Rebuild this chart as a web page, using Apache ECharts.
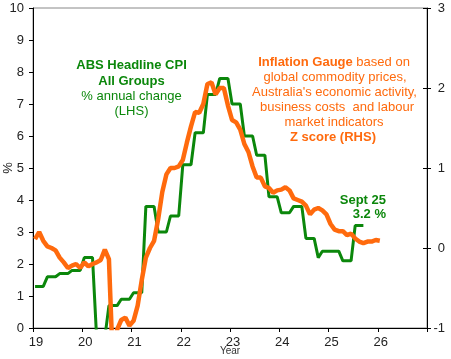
<!DOCTYPE html>
<html>
<head>
<meta charset="utf-8">
<script src="https://cdn.jsdelivr.net/npm/echarts/dist/echarts.min.js"></script>
<style>html,body{margin:0;padding:0;background:#fff}#c{width:451px;height:359px}</style>
</head>
<body>
<div id="c"></div>
<script>
// Monthly series starting January 2019 (x axis in years, '19' = 2019)
const startYear = 19;
// ABS headline CPI, % annual change (LHS), quarterly value held across months
const cpiMonthly = [1.3,1.3,1.3, 1.6,1.6,1.6, 1.7,1.7,1.7, 1.8,1.8,1.8,
  2.2,2.2,2.2, -0.3,-0.3,-0.3, 0.7,0.7,0.7, 0.9,0.9,0.9,
  1.1,1.1,1.1, 3.8,3.8,3.8, 3.0,3.0,3.0, 3.5,3.5,3.5,
  5.1,5.1,5.1, 6.1,6.1,6.1, 7.3,7.3,7.3, 7.8,7.8,7.8,
  7.0,7.0,7.0, 6.0,6.0,6.0, 5.4,5.4,5.4, 4.1,4.1,4.1,
  3.6,3.6,3.6, 3.8,3.8,3.8, 2.8,2.8,2.8, 2.2,2.4,2.4,
  2.4,2.4,2.4, 2.1,2.1,2.1, 3.2,3.2,3.2];
// Inflation Gauge Z score (RHS), monthly
const gaugeZ = [0.11,0.20,0.09,0.02,0.00,-0.03,-0.12,-0.18,-0.25,-0.22,-0.20,-0.25,
  -0.18,-0.23,-0.20,-0.18,-0.15,-0.02,-0.14,-1.50,-1.02,-0.90,-0.87,-0.97,
  -0.91,-0.72,-0.40,-0.12,0.00,0.09,0.36,0.70,0.92,1.00,1.00,1.02,
  1.10,1.32,1.52,1.70,1.69,1.80,2.05,2.07,1.92,2.00,2.00,1.78,
  1.60,1.57,1.48,1.30,1.20,1.02,0.88,0.88,0.77,0.75,0.69,0.72,
  0.73,0.76,0.72,0.62,0.60,0.58,0.53,0.42,0.48,0.50,0.47,0.42,
  0.30,0.23,0.21,0.21,0.16,0.18,0.12,0.08,0.06,0.08,0.08,0.10,
  0.09];
const xTickLabels = ['19','20','21','22','23','24','25','26'];
const leftTicks = [0,10,1];   // min, max, interval
const rightTicks = [-1,3,1];

const monthX = m => startYear + (m + 0.5) / 12;
const cpiData = cpiMonthly.map((v, m) => [monthX(m), v]);
const gaugeData = gaugeZ.map((v, m) => [monthX(m), v]);

const FONT = "'Liberation Sans', Arial, sans-serif";
const GREEN = '#0b870b';
const ORANGE = '#ff6a0d';

const chart = echarts.init(document.getElementById('c'));
chart.setOption({
  animation: false,
  backgroundColor: '#fff',
  grid: {left: 33, right: 24, top: 8, bottom: 31, containLabel: false, outerBoundsMode: 'none',
    show: true, borderColor: '#888', borderWidth: 1},
  xAxis: {
    type: 'value', min: 19, max: 27, interval: 1,
    name: 'Year', nameLocation: 'middle', nameGap: 18, nameMoveOverlap: false,
    nameTextStyle: {fontSize: 10, color: '#333', fontFamily: FONT},
    axisLine: {lineStyle: {color: '#000', width: 1}},
    axisTick: {length: 4, lineStyle: {color: '#000'}},
    splitLine: {show: false},
    axisLabel: {fontSize: 13, color: '#222', fontFamily: FONT, margin: 8, padding: [0,0,0,6],
      formatter: v => { const i = Math.round(v) - 19; return xTickLabels[i] || ''; }}
  },
  yAxis: [
    {type: 'value', position: 'left', min: leftTicks[0], max: leftTicks[1], interval: leftTicks[2],
      name: '%', nameLocation: 'middle', nameGap: 18, nameRotate: 90, nameMoveOverlap: false,
      nameTextStyle: {fontSize: 13, color: '#222', fontFamily: FONT},
      axisLine: {show: true, lineStyle: {color: '#000'}},
      axisTick: {show: true, length: 4, lineStyle: {color: '#000'}},
      splitLine: {show: false},
      axisLabel: {fontSize: 13, color: '#222', fontFamily: FONT, margin: 9}},
    {type: 'value', position: 'right', min: rightTicks[0], max: rightTicks[1], interval: rightTicks[2],
      axisLine: {show: true, lineStyle: {color: '#000'}},
      axisTick: {show: true, length: 4, lineStyle: {color: '#000'}},
      splitLine: {show: false},
      axisLabel: {fontSize: 13, color: '#222', fontFamily: FONT, margin: 18, align: 'right'}},
    {type: 'value', position: 'right', min: rightTicks[0], max: rightTicks[1], interval: rightTicks[2],
      axisLine: {show: false},
      axisTick: {show: true, inside: true, length: 4, lineStyle: {color: '#000'}},
      splitLine: {show: false},
      axisLabel: {show: false}}
  ],
  series: [
    {type: 'line', name: 'CPI', yAxisIndex: 0, data: cpiData, showSymbol: false, symbol: 'none',
      lineStyle: {color: GREEN, width: 3}, z: 2, clip: true},
    {type: 'line', name: 'Gauge', yAxisIndex: 1, data: gaugeData, showSymbol: false, symbol: 'none',
      lineStyle: {color: ORANGE, width: 4.5}, z: 3, clip: true}
  ],
  graphic: [
    {type: 'text', x: 131.5, y: 65, style: {text: 'ABS Headline CPI', font: 'bold 13px ' + FONT, fill: GREEN, align: 'center', verticalAlign: 'middle'}},
    {type: 'text', x: 131.5, y: 81, style: {text: 'All Groups', font: 'bold 13px ' + FONT, fill: GREEN, align: 'center', verticalAlign: 'middle'}},
    {type: 'text', x: 131.5, y: 96, style: {text: '% annual change', font: '13px ' + FONT, fill: GREEN, align: 'center', verticalAlign: 'middle'}},
    {type: 'text', x: 131.5, y: 111, style: {text: '(LHS)', font: '13px ' + FONT, fill: GREEN, align: 'center', verticalAlign: 'middle'}},
    {type: 'text', x: 334, y: 62, style: {text: '{b|Inflation Gauge} {n|based on}', align: 'center', verticalAlign: 'middle',
      rich: {b: {font: 'bold 13px ' + FONT, fill: ORANGE, color: ORANGE}, n: {font: '13px ' + FONT, fill: ORANGE, color: ORANGE}}, font: '13px ' + FONT, fill: ORANGE}},
    {type: 'text', x: 335, y: 77, style: {text: 'global commodity prices,', font: '13px ' + FONT, fill: ORANGE, align: 'center', verticalAlign: 'middle'}},
    {type: 'text', x: 334.5, y: 92, style: {text: "Australia's economic activity,", font: '13px ' + FONT, fill: ORANGE, align: 'center', verticalAlign: 'middle'}},
    {type: 'text', x: 337, y: 107, style: {text: 'business costs  and labour', font: '13px ' + FONT, fill: ORANGE, align: 'center', verticalAlign: 'middle'}},
    {type: 'text', x: 334, y: 122, style: {text: 'market indicators', font: '13px ' + FONT, fill: ORANGE, align: 'center', verticalAlign: 'middle'}},
    {type: 'text', x: 333, y: 137, style: {text: 'Z score (RHS)', font: 'bold 13px ' + FONT, fill: ORANGE, align: 'center', verticalAlign: 'middle'}},
    {type: 'text', x: 386, y: 200, style: {text: 'Sept 25', font: 'bold 13px ' + FONT, fill: GREEN, align: 'right', verticalAlign: 'middle'}},
    {type: 'text', x: 386, y: 214, style: {text: '3.2 %', font: 'bold 13px ' + FONT, fill: GREEN, align: 'right', verticalAlign: 'middle'}}
  ]
});
</script>
</body>
</html>
